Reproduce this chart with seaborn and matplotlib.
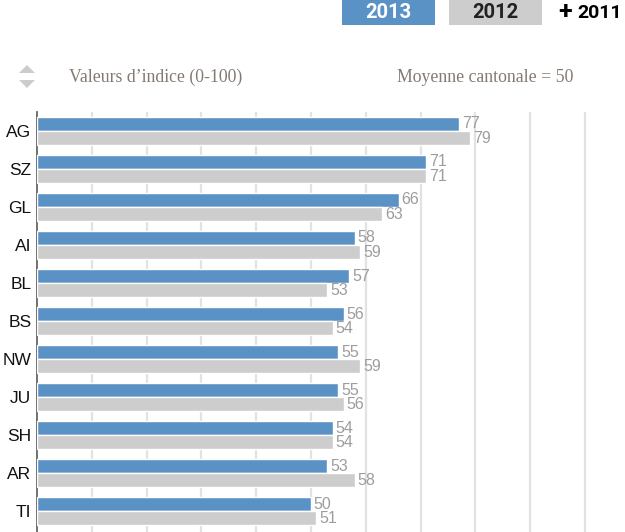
import matplotlib
matplotlib.use("Agg")
import matplotlib.pyplot as plt
from matplotlib.patches import Rectangle, Polygon
import seaborn as sns
import pandas as pd

cantons = ["AG", "SZ", "GL", "AI", "BL", "BS", "NW", "JU", "SH", "AR", "TI"]
values_2013 = [77, 71, 66, 58, 57, 56, 55, 55, 54, 53, 50]
values_2012 = [79, 71, 63, 59, 53, 54, 59, 56, 54, 58, 51]
years = ["2013", "2012"]
grid_ticks = [10, 20, 30, 40, 50, 60, 70, 80, 90, 100]

BLUE = "#5b92c6"
GREY = "#cdcdcd"

df = pd.DataFrame({
    "canton": cantons * 2,
    "year": ["2013"] * len(cantons) + ["2012"] * len(cantons),
    "value": values_2013 + values_2012,
})

sns.set_theme(style="white")
plt.rcParams['font.family'] = ['Liberation Sans', 'DejaVu Sans']

W, H = 625, 532
fig = plt.figure(figsize=(W / 100, H / 100), dpi=100)
ax = fig.add_axes([37 / W, 0, 1 - 37 / W, 420 / H])

sns.barplot(data=df, y="canton", x="value", hue="year", hue_order=years,
            order=cantons, palette=[BLUE, GREY], saturation=1, orient="h", width=0.74,
            edgecolor="white", linewidth=1.0, legend=False, ax=ax, zorder=3)

for cont in ax.containers:
    ax.bar_label(cont, padding=2, color="#9d9d9d", fontsize=11.5)

ax.set_xlim(0, 107.3)
ax.set_ylim(10.55, -0.5)
ax.set_xticks(grid_ticks)
ax.set_xticklabels([])
ax.grid(axis="x", color="#e2e2e2", linewidth=1.6, zorder=0)
ax.grid(axis="y", visible=False)
ax.set_axisbelow(True)
for s in ["top", "right", "bottom"]:
    ax.spines[s].set_visible(False)
ax.spines["left"].set_color("#666666")
ax.spines["left"].set_linewidth(1.3)
ax.tick_params(axis="y", length=0, pad=4, labelsize=12.5, labelcolor="#111111")
ax.tick_params(axis="x", length=0)
ax.set_xlabel("")
ax.set_ylabel("")


def fx(x):
    return x / W


def fy(y):
    return 1 - y / H


# Header legend boxes
fig.patches.append(Rectangle((fx(342), fy(25)), 93 / W, 25 / H, transform=fig.transFigure,
                             facecolor=BLUE, edgecolor="none"))
fig.patches.append(Rectangle((fx(449), fy(25)), 93 / W, 25 / H, transform=fig.transFigure,
                             facecolor=GREY, edgecolor="none"))
hdr_font = ["Roboto", "DejaVu Sans"]
fig.text(fx(388.5), fy(13), "2013", color="white", fontsize=14.5, fontweight="bold",
         ha="center", va="center", family=hdr_font)
fig.text(fx(495.5), fy(13), "2012", color="#222222", fontsize=14.5, fontweight="bold",
         ha="center", va="center", family=hdr_font)
fig.text(fx(565), fy(12), "+", color="black", fontsize=18, fontweight="bold",
         ha="center", va="center", family=hdr_font)
fig.text(fx(600), fy(13), "2011", color="black", fontsize=14, fontweight="bold",
         ha="center", va="center", family=hdr_font)

# Sort icon
fig.patches.append(Polygon([(fx(19), fy(73)), (fx(35), fy(73)), (fx(27), fy(65))],
                           closed=True, transform=fig.transFigure, facecolor="#cccccc",
                           edgecolor="none"))
fig.patches.append(Polygon([(fx(19), fy(80)), (fx(35), fy(80)), (fx(27), fy(88))],
                           closed=True, transform=fig.transFigure, facecolor="#cccccc",
                           edgecolor="none"))

serif = ["Liberation Serif", "DejaVu Serif"]
fig.text(fx(69), fy(77), "Valeurs d\u2019indice (0-100)", color="#857a70", fontsize=12.8,
         ha="left", va="center", family=serif)
fig.text(fx(573), fy(77), "Moyenne cantonale = 50", color="#857a70", fontsize=12.8,
         ha="right", va="center", family=serif)

fig.savefig("out.png", dpi=100)
